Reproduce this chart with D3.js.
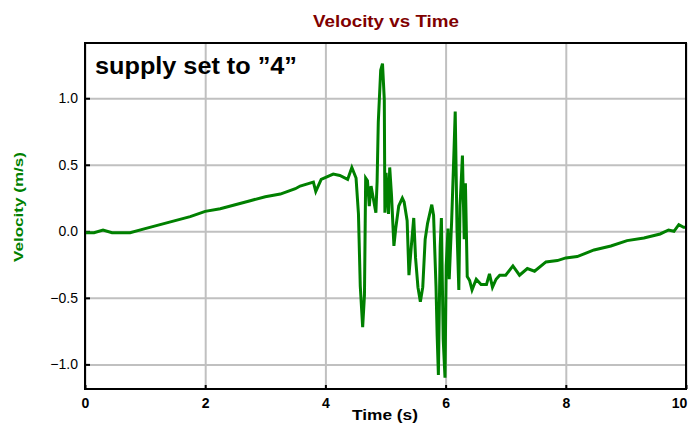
<!DOCTYPE html>
<html>
<head>
<meta charset="utf-8">
<script src="https://cdn.jsdelivr.net/npm/d3@7"></script>
<style>
  body { margin: 0; background: #fff; }
  text { font-family: "Liberation Sans", Arial, sans-serif; }
</style>
</head>
<body>
<svg width="688" height="424"></svg>
<script>
// time (s) and velocity (m/s)
const time = [
  0, 0.15, 0.3, 0.45, 0.6, 0.75, 1.0, 1.25, 1.5, 1.75, 2.0, 2.25, 2.5, 2.75, 3.0, 3.25, 3.5, 3.58,
  3.8, 3.84, 3.93, 4.13, 4.24, 4.37, 4.44, 4.51, 4.55, 4.58, 4.62, 4.65, 4.67, 4.70, 4.73, 4.76,
  4.84, 4.86, 4.88, 4.92, 4.95, 4.98, 4.99, 5.01, 5.05, 5.07, 5.10, 5.14, 5.17, 5.22, 5.28, 5.31,
  5.36, 5.39, 5.43, 5.47, 5.50, 5.54, 5.58, 5.62, 5.66, 5.70, 5.77, 5.80, 5.84, 5.86, 5.88, 5.91,
  5.93, 5.96, 5.99, 6.01, 6.04, 6.06, 6.10, 6.14, 6.16, 6.19, 6.22, 6.24, 6.28, 6.31, 6.33, 6.36,
  6.40, 6.44, 6.51, 6.59, 6.68, 6.73, 6.78, 6.84, 6.90, 7.0, 7.12, 7.23, 7.36, 7.48, 7.67, 7.86,
  8.0, 8.19, 8.47, 8.75, 9.02, 9.30, 9.57, 9.71, 9.80, 9.88, 9.96, 10.0
];
const velocity = [
  -0.01, -0.01, 0.01, -0.01, -0.01, -0.01, 0.02, 0.05, 0.08, 0.11, 0.15, 0.17, 0.20, 0.23, 0.26, 0.28, 0.32, 0.34,
  0.37, 0.30, 0.39, 0.43, 0.42, 0.39, 0.48, 0.40, 0.13, -0.41, -0.72, -0.48, 0.40, 0.38, 0.19, 0.34,
  0.14, 0.37, 0.82, 1.21, 1.26, 0.99, 0.14, 0.44, 0.13, 0.48, 0.27, -0.11, 0.02, 0.19, 0.25, 0.22,
  0.08, -0.33, -0.11, 0.10, -0.20, -0.42, -0.53, -0.42, -0.06, 0.06, 0.20, 0.12, -0.41, -0.79, -1.08, -0.11,
  0.10, -0.81, -1.10, -0.26, 0.02, -0.36, 0.07, 0.61, 0.90, 0.01, -0.44, 0.19, 0.57, -0.06, 0.36, -0.34,
  -0.37, -0.44, -0.36, -0.40, -0.40, -0.32, -0.42, -0.36, -0.33, -0.33, -0.26, -0.33, -0.28, -0.30, -0.23, -0.22,
  -0.20, -0.19, -0.14, -0.11, -0.07, -0.05, -0.02, 0.01, 0.00, 0.05, 0.03, 0.03
];
const xTicks = [0, 2, 4, 6, 8, 10];
const yTicks = [-1.0, -0.5, 0.0, 0.5, 1.0];

const margin = { left: 85, top: 43, right: 686, bottom: 389 };
const svg = d3.select('svg');

const x = d3.scaleLinear().domain([0, 10]).range([margin.left, margin.right]);
const y = d3.scaleLinear().domain([-1.185, 1.415]).range([margin.bottom, margin.top]);

// grid
svg.append('g')
  .attr('transform', `translate(0,${margin.bottom})`)
  .call(d3.axisBottom(x).tickValues(xTicks).tickSize(-(margin.bottom - margin.top)).tickFormat(''))
  .call(g => g.select('.domain').remove())
  .call(g => g.selectAll('line').attr('stroke', '#c0c0c0').attr('stroke-width', 2));
svg.append('g')
  .attr('transform', `translate(${margin.left},0)`)
  .call(d3.axisLeft(y).tickValues(yTicks).tickSize(-(margin.right - margin.left)).tickFormat(''))
  .call(g => g.select('.domain').remove())
  .call(g => g.selectAll('line').attr('stroke', '#c0c0c0').attr('stroke-width', 2));

// small inside ticks with labels
svg.append('g')
  .attr('transform', `translate(0,${margin.bottom})`)
  .call(d3.axisBottom(x).tickValues(xTicks).tickSizeInner(-4).tickSizeOuter(0).tickPadding(9).tickFormat(d3.format('d')))
  .call(g => g.select('.domain').remove())
  .call(g => g.selectAll('line').attr('stroke', '#000').attr('stroke-width', 2))
  .call(g => g.selectAll('text').attr('fill', '#000').style('font-size', '14px').style('font-weight', 'bold'))
  .call(g => g.selectAll('text').filter(d => d === 10).attr('dx', -7));
svg.append('g')
  .attr('transform', `translate(${margin.left},0)`)
  .call(d3.axisLeft(y).tickValues(yTicks).tickSizeInner(-5).tickSizeOuter(0).tickPadding(7).tickFormat(d3.format('.1f')))
  .call(g => g.select('.domain').remove())
  .call(g => g.selectAll('line').attr('stroke', '#000').attr('stroke-width', 2))
  .call(g => g.selectAll('text').attr('fill', '#000').style('font-size', '14px'));

// data line
const line = d3.line().x((d, i) => x(time[i])).y(d => y(d));
svg.append('path')
  .datum(velocity)
  .attr('fill', 'none')
  .attr('stroke', '#008000')
  .attr('stroke-width', 3)
  .attr('stroke-linejoin', 'miter')
  .attr('d', line);

// frame
svg.append('rect')
  .attr('x', margin.left).attr('y', margin.top)
  .attr('width', margin.right - margin.left).attr('height', margin.bottom - margin.top)
  .attr('fill', 'none').attr('stroke', '#000').attr('stroke-width', 2);

svg.append('text')
  .attr('x', 313).attr('y', 27)
  .attr('fill', '#800000')
  .attr('textLength', 146).attr('lengthAdjust', 'spacingAndGlyphs')
  .style('font-size', '17px').style('font-weight', 'bold')
  .text('Velocity vs Time');

svg.append('text')
  .attr('x', 95).attr('y', 74)
  .attr('fill', '#000')
  .attr('textLength', 202).attr('lengthAdjust', 'spacingAndGlyphs')
  .style('font-size', '23px').style('font-weight', 'bold')
  .text('supply set to ”4”');

svg.append('text')
  .attr('x', 352).attr('y', 420)
  .attr('fill', '#000')
  .attr('textLength', 66).attr('lengthAdjust', 'spacingAndGlyphs')
  .style('font-size', '14px').style('font-weight', 'bold')
  .text('Time (s)');

svg.append('text')
  .attr('transform', 'translate(23,262) rotate(-90)')
  .attr('fill', '#008000')
  .attr('textLength', 110).attr('lengthAdjust', 'spacingAndGlyphs')
  .style('font-size', '13px').style('font-weight', 'bold')
  .text('Velocity (m/s)');
</script>
</body>
</html>
